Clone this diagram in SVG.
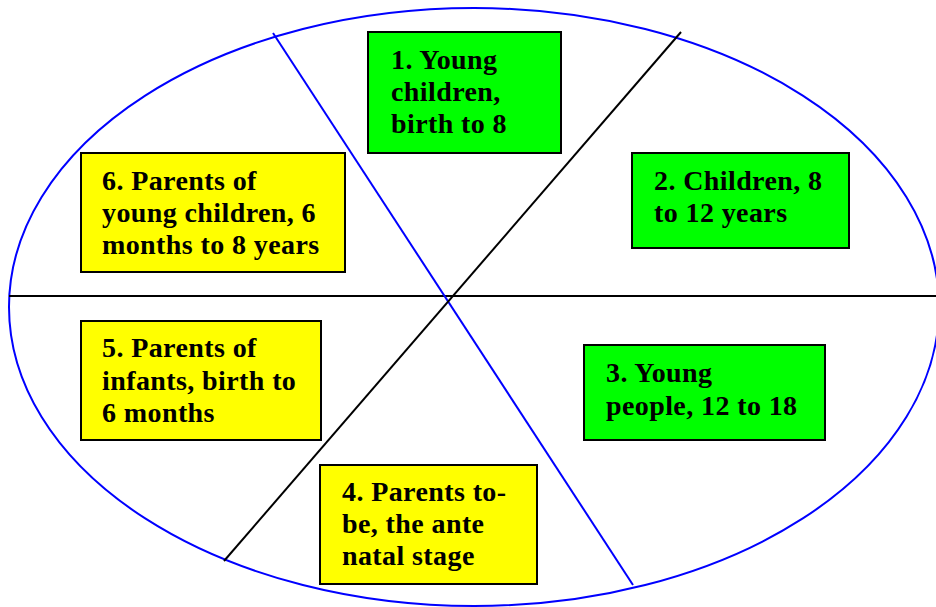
<svg xmlns="http://www.w3.org/2000/svg" width="936" height="607" viewBox="0 0 936 607">
<style>
.box{stroke:#000;stroke-width:2}
.g{fill:#00ff00}
.y{fill:#ffff00}
text{font-family:"Liberation Serif","Times New Roman",serif;font-weight:bold;font-size:28px;letter-spacing:0.4px;fill:#000}
.blue{stroke:#0000ff;stroke-width:2;fill:none}
.blk{stroke:#000;stroke-width:2;fill:none}
</style>
<rect width="936" height="607" fill="#fff"/>
<g id="connectors">
<ellipse class="blue" cx="474" cy="307" rx="465" ry="299"/>
<line class="blk" x1="9" y1="296" x2="936" y2="296"/>
<line class="blue" x1="273" y1="33" x2="633" y2="585"/>
<line class="blk" x1="681" y1="32" x2="224" y2="561"/>
</g>
<g id="n1">
<rect class="box g" x="368" y="32" width="193" height="121"/>
<text x="391" y="69">1. Young</text>
<text x="391" y="101">children,</text>
<text x="391" y="133">birth to 8</text>
</g>
<g id="n2">
<rect class="box g" x="632" y="153" width="217" height="95"/>
<text x="654" y="190">2. Children, 8</text>
<text x="654" y="222">to 12 years</text>
</g>
<g id="n3">
<rect class="box g" x="584" y="345" width="241" height="95"/>
<text x="606" y="382">3. Young</text>
<text x="606" y="415">people, 12 to 18</text>
</g>
<g id="n4">
<rect class="box y" x="320" y="465" width="217" height="119"/>
<text x="342" y="501">4. Parents to-</text>
<text x="342" y="533">be, the ante</text>
<text x="342" y="565">natal stage</text>
</g>
<g id="n5">
<rect class="box y" x="81" y="321" width="240" height="119"/>
<text x="102" y="357">5. Parents of</text>
<text x="102" y="390">infants, birth to</text>
<text x="102" y="422">6 months</text>
</g>
<g id="n6">
<rect class="box y" x="81" y="153" width="264" height="119"/>
<text x="102" y="190">6. Parents of</text>
<text x="102" y="222">young children, 6</text>
<text x="102" y="254">months to 8 years</text>
</g>
</svg>
